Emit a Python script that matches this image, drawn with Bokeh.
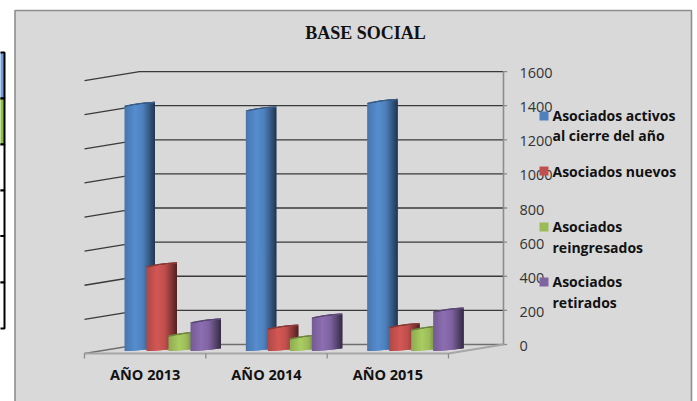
import math
from bokeh.plotting import figure
from bokeh.models import Range1d
from bokeh.core.properties import value
from bokeh.embed import file_html
from bokeh.resources import INLINE

# ---- data ----
categories = ["AÑO 2013", "AÑO 2014", "AÑO 2015"]
activos = [1438, 1411, 1455]
nuevos = [497, 132, 141]
reingresados = [91, 74, 126]
retirados = [168, 197, 232]
axis_ticks = [0, 200, 400, 600, 800, 1000, 1200, 1400, 1600]
series_names = ["activos", "nuevos", "reingresados", "retirados"]
series_colors = ["#4f81bd", "#c0504d", "#9bbb59", "#8064a2"]
legend_lines = [["Asociados activos", "al cierre del año"], ["Asociados nuevos"],
                ["Asociados", "reingresados"], ["Asociados", "retirados"]]
legend_line_y = [[115, 135], [171], [226, 247], [281, 302]]
legend_square_y = [115.5, 170.5, 226.5, 281.5]
title_text = "BASE SOCIAL"

# ---- scales: x in category units, y in value units ----
W, H = 697, 401
X0, UNIT = 84.0, 121.33      # pixel of category boundary 0, pixels per category
Y0, YPX = 344.0, 0.1706      # pixel of value 0 on back wall, pixels per unit
DEPTH_X, DEPTH_Y = 55 / UNIT, 9 / YPX
xr = Range1d(-X0 / UNIT, (W - X0) / UNIT)
yr = Range1d((Y0 - H) / YPX, Y0 / YPX)
def xp(px): return (px - X0) / UNIT
def yp(px): return (Y0 - px) / YPX

p = figure(width=W, height=H, x_range=xr, y_range=yr, output_backend="svg",
           toolbar_location=None, min_border=0,
           background_fill_color="white", border_fill_color="white", outline_line_color=None)
p.axis.visible = False
p.grid.visible = False

# chart panel
p.quad(left=[xp(14.5)], right=[xp(691)], top=[yp(10)], bottom=[yp(410)],
       fill_color="#d9d9d9", line_color="#8f8f8f", line_width=1.6)

# table fragment at the left edge
rows = [52, 98, 144, 190, 235.5, 282, 328]
fills = ["#6f9ed8", "#8cbf3f", "white", "white", "white", "white"]
p.quad(left=[xp(-6)] * 6, right=[xp(4)] * 6, top=[yp(r) for r in rows[:-1]],
       bottom=[yp(r) for r in rows[1:]], fill_color=fills, line_color="black", line_width=2)

# gridlines: side wall + back wall
for t in axis_ticks:
    col = "#3a3a3a" if t else "#6f6f6f"
    p.line([0, DEPTH_X, 3 + DEPTH_X], [t - DEPTH_Y, t, t], line_color=col, line_width=1.3)
    p.line([3 + DEPTH_X, 3 + DEPTH_X + 0.03], [t, t], line_color="#8c8c8c", line_width=1.3)
# back right axis
p.line([3 + DEPTH_X] * 2, [0, axis_ticks[-1]], line_color="#8c8c8c", line_width=1.6)
# floor: front edge & right side
p.line([0, 3, 3 + DEPTH_X], [-DEPTH_Y, -DEPTH_Y, 0], line_color="#a6a6a6", line_width=1.8)
for i in range(4):
    p.line([i, i], [-DEPTH_Y, -DEPTH_Y - 5 / YPX], line_color="#8c8c8c", line_width=1.3)

# cylinders as thin shaded strips
def shade(hexc, f):
    r, g, b = int(hexc[1:3], 16), int(hexc[3:5], 16), int(hexc[5:7], 16)
    c = [min(255, int(v * f)) for v in (r, g, b)]
    return "#%02x%02x%02x" % tuple(c)
def factor(t):
    pts = [(0, 0.92), (0.12, 0.98), (0.35, 1.1), (0.6, 1.0), (0.8, 0.72), (1, 0.42)]
    for (a, fa), (b, fb) in zip(pts, pts[1:]):
        if t <= b:
            return fa + (fb - fa) * (t - a) / (b - a)
    return pts[-1][1]

all_series = [activos, nuevos, reingresados, retirados]
BAR_START, BAR_STEP, BAR_W, NSTRIP = 40 / UNIT, 22 / UNIT, 30.5 / UNIT, 30
MID = DEPTH_Y / 2
for s, (vals, col) in enumerate(zip(all_series, series_colors)):
    for c, v in enumerate(vals):
        x0 = c + BAR_START + s * BAR_STEP
        L, R, T, B, F, CT, CF = [], [], [], [], [], [], []
        for k in range(NSTRIP):
            t = (k + 0.5) / NSTRIP
            dtop = (2 - 4 * t - 0.7 * math.sin(math.pi * t)) / YPX
            dbot = (2 - 1.0 * t - 1.9 * t * t) / YPX
            L.append(x0 + BAR_W * k / NSTRIP)
            R.append(x0 + BAR_W * min(k + 2.5, NSTRIP) / NSTRIP)
            T.append(v - MID - dtop - 1.6 / YPX)
            B.append(-MID - dbot)
            F.append(shade(col, factor(t)))
            CT.append(v - MID - dtop)
            CF.append(shade(col, 0.72))
        p.quad(left=L, right=R, top=CT, bottom=T, fill_color=CF, line_color=None)
        p.quad(left=L, right=R, top=T, bottom=B, fill_color=F, line_color=None)

SANS = value("Open Sans")
# title
p.text([xp(365)], [yp(32)], text=[title_text], text_font=value("Liberation Serif"),
       text_font_style="bold", text_font_size="18px", text_color="#111111",
       text_align="center", text_baseline="middle")
# value labels
p.text([xp(519)] * len(axis_ticks), [t - 1.5 / YPX for t in axis_ticks],
       text=[str(t) for t in axis_ticks], text_font=SANS, text_font_size="14.5px",
       text_color="#333333", text_align="left", text_baseline="middle")
# category labels
p.text([i + 0.5 for i in range(3)], [yp(374)] * 3, text=categories, text_font=SANS,
       text_font_style="bold", text_font_size="14.5px", text_color="#111111",
       text_align="center", text_baseline="middle")
# legend
for name, col, lines, ys, sy in zip(series_names, series_colors, legend_lines, legend_line_y, legend_square_y):
    p.quad(left=[xp(539)], right=[xp(548)], top=[yp(sy - 4.5)], bottom=[yp(sy + 4.5)],
           fill_color=col, line_color=None)
    p.text([xp(552)] * len(lines), [yp(y) for y in ys], text=lines, text_font=SANS,
           text_font_style="bold", text_font_size="14px", text_color="#111111",
           text_align="left", text_baseline="middle")

open("out.html", "w").write(file_html(p, INLINE))
